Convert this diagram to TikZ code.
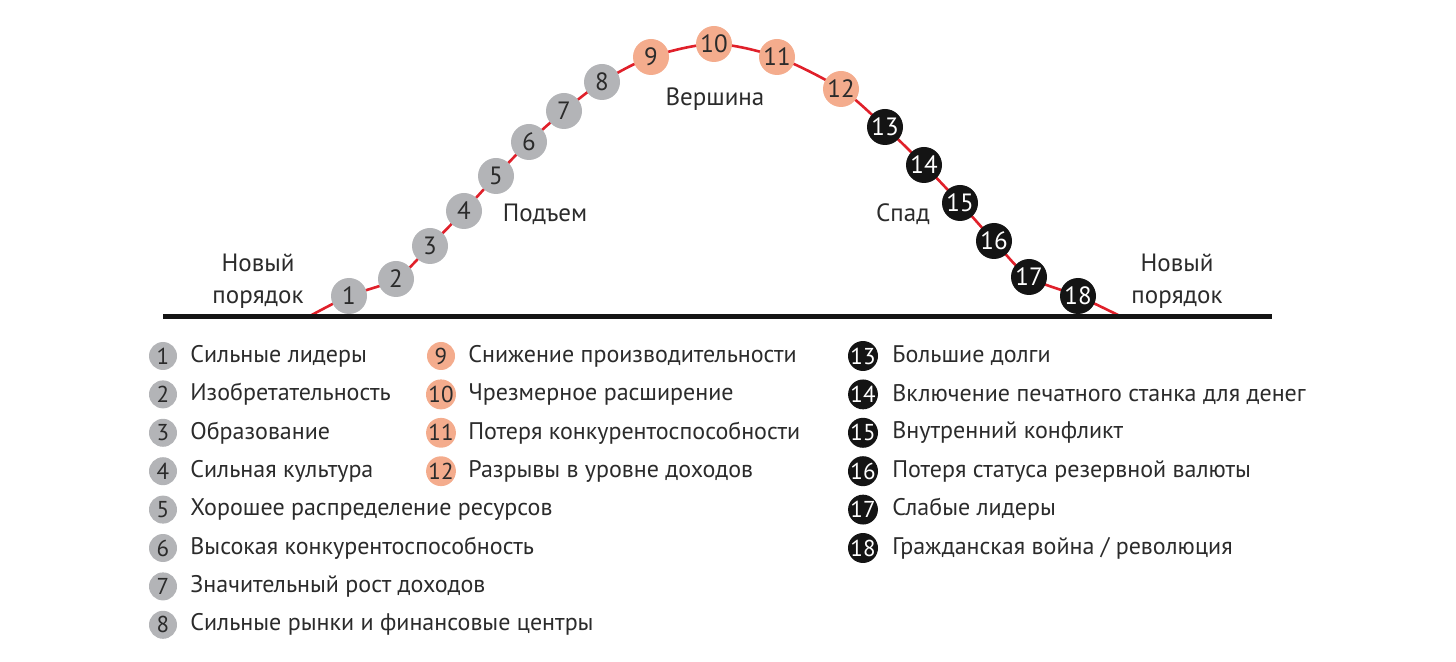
\documentclass[tikz,border=0pt]{standalone}
\usepackage{fontspec}
\setmainfont{PT Sans}
\definecolor{cgray}{HTML}{B3B4B7}
\definecolor{csalmon}{HTML}{F4AC8D}
\definecolor{cblack}{HTML}{141414}
\definecolor{cred}{HTML}{E0202A}
\definecolor{ctext}{HTML}{2B2B2B}
\begin{document}
\begin{tikzpicture}[x=0.5pt,y=-0.5pt,
  big/.style={circle, minimum size=18pt, inner sep=0pt, font=\fontsize{12.5}{12.5}\selectfont},
  small/.style={circle, minimum size=14pt, inner sep=0pt, font=\fontsize{11.5}{11.5}\selectfont},
  gr/.style={fill=cgray, text=ctext},
  sa/.style={fill=csalmon, text=ctext},
  bl/.style={fill=cblack, text=white},
  lbl/.style={anchor=west, inner sep=0pt, text=ctext, font=\fontsize{12}{12}\selectfont},
  phase/.style={text=ctext, align=center, inner sep=0pt, font=\fontsize{12.5}{16}\selectfont}]
\useasboundingbox (0,0) rectangle (1456,662);
% curve points
\coordinate (s) at (308,317);
\coordinate (p1) at (349,296);
\coordinate (p2) at (396,279);
\coordinate (p3) at (430,246);
\coordinate (p4) at (464,211);
\coordinate (p5) at (496,176);
\coordinate (p6) at (529,142);
\coordinate (p7) at (564,111);
\coordinate (p8) at (602,82);
\coordinate (p9) at (651,57);
\coordinate (p10) at (714,44);
\coordinate (p11) at (777,57);
\coordinate (p12) at (841,89);
\coordinate (p13) at (885,127);
\coordinate (p14) at (924,165);
\coordinate (p15) at (960,203);
\coordinate (p16) at (994,241);
\coordinate (p17) at (1029,277);
\coordinate (p18) at (1078,296);
\coordinate (e) at (1122,317);
\draw[cred, line width=1.3pt] plot[smooth, tension=0.5] coordinates {(s) (p1) (p2) (p3) (p4) (p5) (p6) (p7) (p8) (p9) (p10) (p11) (p12) (p13) (p14) (p15) (p16) (p17) (p18) (e)};
\coordinate (bl) at (163,317);
\coordinate (br) at (1272,317);
\draw[cblack, line width=2.5pt] (bl) -- (br);
% circles on curve
\foreach \i in {1,...,8} {\node[big, gr] (n\i) at (p\i) {\i};}
\foreach \i in {9,...,12} {\node[big, sa] (n\i) at (p\i) {\i};}
\foreach \i in {13,...,18} {\node[big, bl] (n\i) at (p\i) {\i};}
% phase labels
\node[phase] (lno) at (258,281) {Новый\\порядок};
\node[phase] (lup) at (545,214) {Подъем};
\node[phase] (ltop) at (715,99) {Вершина};
\node[phase] (ldown) at (903,214) {Спад};
\node[phase] (rno) at (1177,281) {Новый\\порядок};
% legend column 1
\foreach \i/\t [count=\k from 0] in {1/Сильные лидеры, 2/Изобретательность, 3/Образование, 4/Сильная культура, 5/Хорошее распределение ресурсов, 6/Высокая конкурентоспособность, 7/Значительный рост доходов, 8/Сильные рынки и финансовые центры} {
  \node[small, gr] (m\i) at (163,{356+38.4*\k}) {\i};
  \node[lbl] (t\i) at (190,{356+38.4*\k}) {\t};
}
% legend column 2
\foreach \i/\t [count=\k from 0] in {9/Снижение производительности, 10/Чрезмерное расширение, 11/Потеря конкурентоспособности, 12/Разрывы в уровне доходов} {
  \node[small, sa] (m\i) at (441,{356+38.4*\k}) {\i};
  \node[lbl] (t\i) at (468,{356+38.4*\k}) {\t};
}
% legend column 3
\foreach \i/\t [count=\k from 0] in {13/Большие долги, 14/Включение печатного станка для денег, 15/Внутренний конфликт, 16/Потеря статуса резервной валюты, 17/Слабые лидеры, 18/{Гражданская война / революция}} {
  \node[small, bl] (m\i) at (863,{356+38.4*\k}) {\i};
  \node[lbl] (t\i) at (892,{356+38.4*\k}) {\t};
}
\end{tikzpicture}
\end{document}
